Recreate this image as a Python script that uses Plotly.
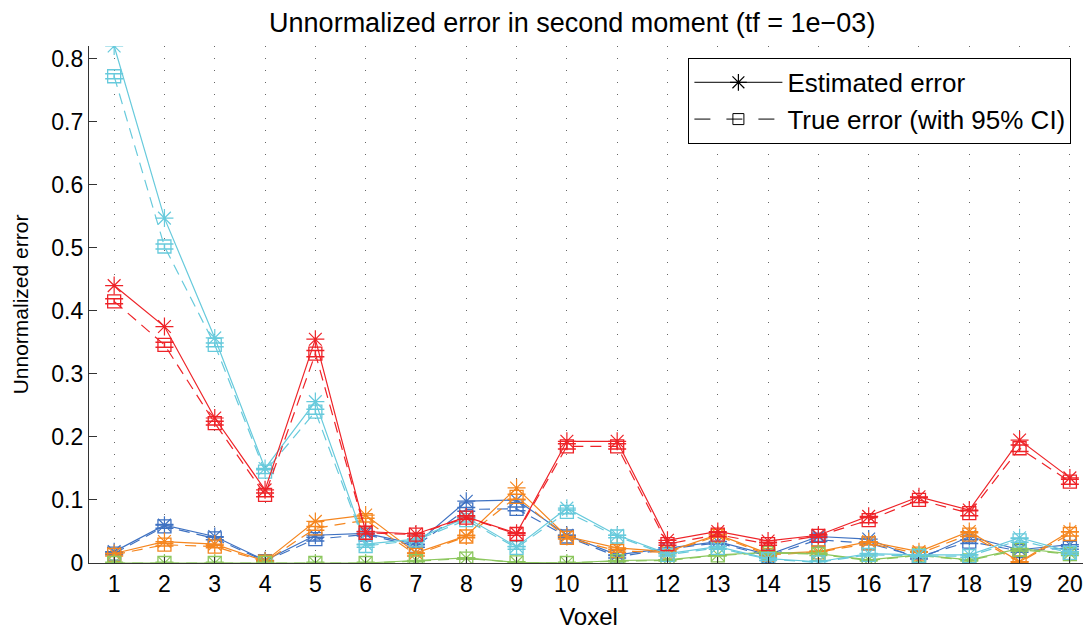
import plotly.graph_objects as go

voxels = list(range(1, 21))

cyan_est = [0.820, 0.547, 0.357, 0.150, 0.256, 0.030, 0.038, 0.072, 0.026, 0.087,
            0.044, 0.015, 0.026, 0.007, 0.002, 0.015, 0.013, 0.013, 0.040, 0.018]
cyan_true = [0.772, 0.502, 0.346, 0.145, 0.240, 0.027, 0.036, 0.068, 0.024, 0.081,
             0.042, 0.013, 0.024, 0.006, 0.001, 0.013, 0.011, 0.011, 0.036, 0.016]

red_est = [0.440, 0.375, 0.230, 0.116, 0.355, 0.050, 0.046, 0.073, 0.047, 0.193,
           0.193, 0.036, 0.050, 0.035, 0.044, 0.074, 0.105, 0.084, 0.195, 0.135]
red_true = [0.415, 0.346, 0.222, 0.108, 0.332, 0.048, 0.045, 0.072, 0.046, 0.185,
            0.185, 0.030, 0.045, 0.030, 0.043, 0.068, 0.100, 0.079, 0.182, 0.129]

blue_est = [0.018, 0.060, 0.042, 0.004, 0.044, 0.047, 0.030, 0.098, 0.100, 0.044,
            0.013, 0.024, 0.034, 0.013, 0.042, 0.038, 0.006, 0.042, 0.021, 0.029]
blue_true = [0.015, 0.058, 0.039, 0.003, 0.038, 0.045, 0.027, 0.085, 0.086, 0.042,
             0.010, 0.022, 0.032, 0.011, 0.037, 0.031, 0.010, 0.034, 0.019, 0.024]

orange_est = [0.015, 0.034, 0.030, 0.003, 0.066, 0.076, 0.016, 0.043, 0.119, 0.042,
              0.024, 0.018, 0.045, 0.015, 0.018, 0.034, 0.018, 0.050, 0.002, 0.050]
orange_true = [0.013, 0.029, 0.026, 0.002, 0.055, 0.068, 0.013, 0.042, 0.105, 0.040,
               0.019, 0.017, 0.043, 0.013, 0.017, 0.031, 0.015, 0.045, 0.001, 0.046]

green_est = [0.000, 0.000, 0.000, 0.000, 0.000, 0.000, 0.004, 0.008, 0.001, 0.000,
             0.004, 0.005, 0.013, 0.017, 0.015, 0.005, 0.013, 0.005, 0.023, 0.015]
green_true = [0.000, 0.000, 0.000, 0.000, 0.000, 0.000, 0.003, 0.007, 0.001, 0.000,
              0.003, 0.004, 0.012, 0.016, 0.014, 0.004, 0.012, 0.004, 0.021, 0.014]

# 95% CI half-widths of the true error
cyan_ci = [0.004, 0.004, 0.003, 0.003, 0.004, 0.002, 0.002, 0.003, 0.002, 0.003,
           0.002, 0.002, 0.002, 0.002, 0.002, 0.002, 0.002, 0.002, 0.003, 0.002]
red_ci = [0.004, 0.004, 0.003, 0.003, 0.005, 0.002, 0.002, 0.003, 0.002, 0.004,
          0.004, 0.002, 0.003, 0.002, 0.002, 0.004, 0.004, 0.004, 0.005, 0.004]
blue_ci = [0.002, 0.003, 0.002, 0.001, 0.003, 0.002, 0.002, 0.003, 0.003, 0.002,
           0.002, 0.002, 0.002, 0.002, 0.003, 0.002, 0.002, 0.003, 0.002, 0.002]
orange_ci = [0.002, 0.002, 0.002, 0.001, 0.003, 0.003, 0.002, 0.002, 0.004, 0.002,
             0.002, 0.002, 0.002, 0.002, 0.002, 0.002, 0.002, 0.003, 0.001, 0.003]
green_ci = [0.001, 0.001, 0.001, 0.001, 0.001, 0.001, 0.001, 0.001, 0.001, 0.001,
            0.001, 0.001, 0.001, 0.002, 0.002, 0.001, 0.001, 0.001, 0.002, 0.002]

series = [
    ("#3F72C2", blue_est, blue_true, blue_ci),
    ("#F5861F", orange_est, orange_true, orange_ci),
    ("#8CC75E", green_est, green_true, green_ci),
    ("#67CADC", cyan_est, cyan_true, cyan_ci),
    ("#EE2328", red_est, red_true, red_ci),
]

fig = go.Figure()
for color, est, true, ci in series:
    fig.add_trace(go.Scatter(
        x=voxels, y=true, mode="lines+markers", showlegend=False,
        line=dict(color=color, width=1.2, dash="11px,7px"),
        marker=dict(symbol="square-open", size=13, color=color, line=dict(width=1.3, color=color)),
        error_y=dict(type="data", array=ci, visible=True, color=color, thickness=1.5, width=9),
    ))
    fig.add_trace(go.Scatter(
        x=voxels, y=est, mode="lines+markers", showlegend=False,
        line=dict(color=color, width=1.2),
        marker=dict(symbol="asterisk-open", size=15, color=color, line=dict(width=1.2, color=color)),
    ))

# legend entries
fig.add_trace(go.Scatter(
    x=[None], y=[None], mode="lines+markers", name="Estimated error",
    line=dict(color="black", width=1),
    marker=dict(symbol="asterisk-open", size=14, color="black", line=dict(width=1.2, color="black")),
))
fig.add_trace(go.Scatter(
    x=[None], y=[None], mode="lines+markers", name="True error (with 95% CI)",
    line=dict(color="black", width=1, dash="16px,16px"),
    marker=dict(symbol="square-open", size=11, color="black", line=dict(width=1, color="black")),
))

font_family = "Liberation Sans, Arial, Helvetica, sans-serif"

# page body has an 8px margin; figure is sized/offset to compensate
fig.update_layout(
    width=1083, height=627,
    margin=dict(l=81, r=3, t=38, b=72, autoexpand=False),
    paper_bgcolor="white", plot_bgcolor="white",
    font=dict(family=font_family, size=22, color="black"),
    title=dict(text="Unnormalized error in second moment (tf = 1e−03)",
               x=0.521, xanchor="center", y=0.977, yanchor="middle",
               font=dict(size=27)),
    legend=dict(x=0.6, y=0.977, xanchor="left", yanchor="top",
                bgcolor="white", bordercolor="black", borderwidth=1,
                font=dict(size=26), itemwidth=88, tracegroupgap=0),
    xaxis=dict(
        range=[0.5, 20.36], tickmode="array", tickvals=voxels,
        ticktext=[str(v) for v in voxels], automargin=False,
        ticks="inside", ticklen=6, tickcolor="#333",
        showgrid=True, gridcolor="#666", gridwidth=1, griddash="1px,11px",
        showline=True, linecolor="#333", linewidth=1.2, zeroline=False,
        title=dict(text="Voxel", standoff=12, font=dict(size=24)), tickfont=dict(size=23),
    ),
    yaxis=dict(
        range=[0, 0.82], tickmode="array", automargin=False,
        tickvals=[0, 0.1, 0.2, 0.3, 0.4, 0.5, 0.6, 0.7, 0.8],
        ticktext=["0", "0.1", "0.2", "0.3", "0.4", "0.5", "0.6", "0.7", "0.8"],
        ticks="inside", ticklen=8, tickcolor="#333",
        showgrid=False, showline=True, linecolor="#333", linewidth=1.2, zeroline=False,
        title=dict(text="Unnormalized error", standoff=16, font=dict(size=21)), tickfont=dict(size=23),
    ),
)

fig.write_html("out.html")
